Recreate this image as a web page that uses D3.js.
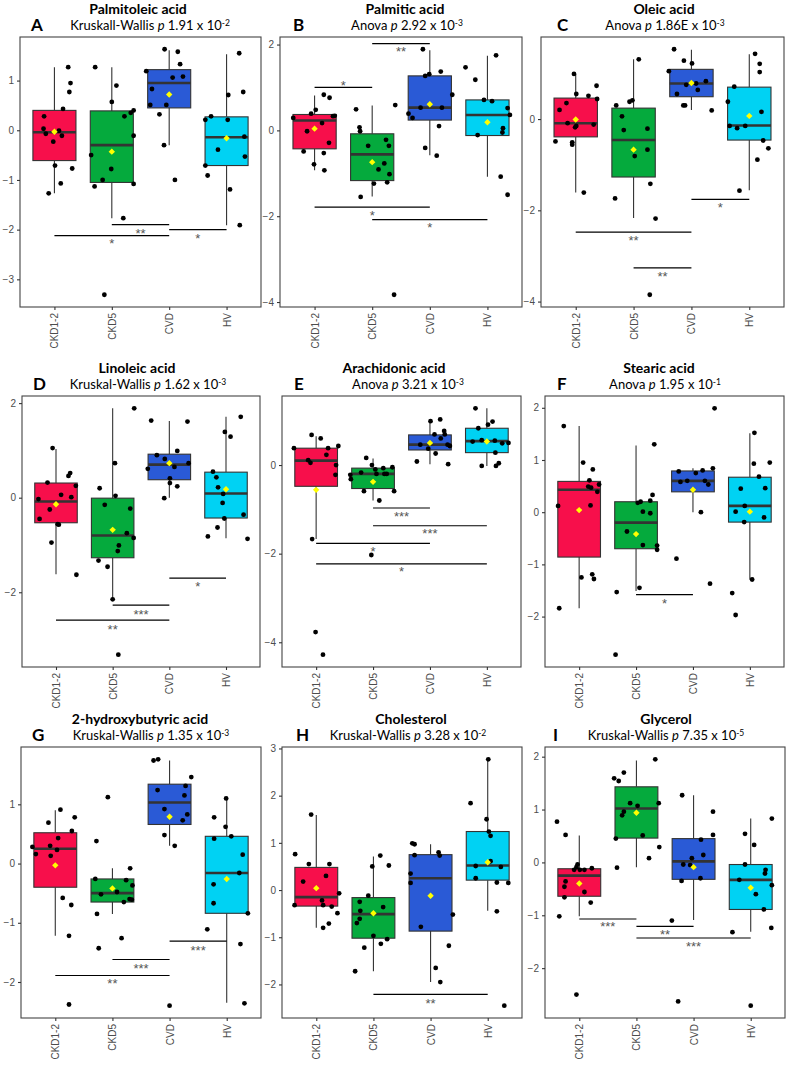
<!DOCTYPE html>
<html><head><meta charset="utf-8">
<script src="https://cdn.jsdelivr.net/npm/d3@7/dist/d3.min.js"></script>
<style>body{margin:0;background:#fff} svg{display:block}</style>
</head><body>
<svg id="c" width="793" height="1067"></svg>
<script>
// ---------------- DATA ----------------
const groups = ["CKD1-2", "CKD5", "CVD", "HV"];
const letters = ["A","B","C","D","E","F","G","H","I"];
const titles = ["Palmitoleic acid","Palmitic acid","Oleic acid","Linoleic acid","Arachidonic acid","Stearic acid","2-hydroxybutyric acid","Cholesterol","Glycerol"];
const tests = ["Kruskall-Wallis","Anova","Anova","Kruskal-Wallis","Anova","Anova","Kruskal-Wallis","Kruskal-Wallis","Kruskal-Wallis"];
const pMantissa = ["1.91","2.92","1.86E","1.62","3.21","1.95","1.35","3.28","7.35"];
const pExponent = ["-2","-3","-3","-3","-3","-1","-3","-2","-5"];
const yTicks = [[-3,-2,-1,0,1],[-4,-2,0,2],[-4,-2,0],[-2,0,2],[-4,-2,0],[-2,-1,0,1,2],[-2,-1,0,1],[-2,-1,0,1,2,3],[-2,-1,0,1,2]];

// points: per group [jitter offset (category units), value]
const ptsA = [
 [[0.24,1.27],[0.28,0.95],[0.26,0.77],[0.15,0.43],[-0.18,0.28],[-0.19,0.03],[-0.15,-0.07],[0.08,-0.01],[0.13,-0.11],[-0.02,-0.23],[0.01,-0.71],[0.31,-0.77],[0.11,-1.07],[-0.10,-1.27]],
 [[-0.29,1.27],[0.08,0.90],[0.0,0.57],[0.22,0.28],[0.33,0.35],[0.38,0.40],[0.38,-0.11],[-0.36,-0.50],[-0.01,-0.78],[-0.16,-1.00],[-0.30,-1.13],[0.38,-1.08],[0.20,-1.77],[-0.13,-3.31]],
 [[-0.08,1.63],[0.15,1.58],[0.19,1.33],[-0.40,1.19],[0.06,1.06],[0.24,1.08],[-0.30,0.83],[-0.33,0.51],[-0.05,0.51],[-0.17,0.32],[-0.09,-0.30],[0.10,-1.00]],
 [[0.22,1.55],[0.29,0.77],[0.03,0.71],[-0.37,0.21],[-0.27,0.28],[0.02,0.21],[-0.15,-0.39],[0.31,-0.13],[0.32,-0.53],[-0.37,-0.71],[-0.33,-0.91],[0.06,-1.19],[0.23,-1.91]]];
const ptsB = [
 [[0.16,0.83],[0.26,0.76],[0.02,0.48],[-0.06,0.39],[-0.37,0.29],[0.35,0.34],[0.32,0.33],[0.13,0.17],[-0.13,-0.02],[0.25,-0.29],[-0.19,-0.49],[0.16,-0.53],[-0.01,-0.79],[0.17,-0.93]],
 [[-0.28,0.49],[0.40,0.59],[-0.22,0.07],[-0.21,-0.02],[-0.07,-0.36],[0.24,-0.22],[0.29,-0.36],[0.11,-0.91],[0.21,-0.77],[0.30,-1.02],[0.03,-1.24],[0.26,-1.21],[-0.20,-1.55],[0.38,-3.83]],
 [[-0.12,1.89],[0.19,1.37],[-0.01,1.31],[-0.08,1.27],[0.39,0.83],[-0.16,0.53],[0.21,0.53],[-0.37,0.39],[-0.30,0.29],[0.16,0.10],[-0.08,-0.41],[0.12,-0.59]],
 [[0.15,1.75],[-0.38,1.47],[-0.21,1.18],[-0.06,0.71],[0.08,0.68],[0.35,0.52],[0.39,0.36],[0.27,0.05],[0.26,-0.05],[-0.17,-0.11],[0.23,-1.08],[0.35,-1.50]]];
const ptsC = [
 [[-0.03,0.99],[0.36,0.73],[0.01,0.55],[0.22,0.51],[-0.16,0.35],[-0.28,0.20],[0.37,0.44],[-0.14,-0.09],[0.01,-0.15],[-0.01,-0.18],[0.31,-0.12],[-0.35,-0.49],[-0.06,-0.51],[-0.06,-0.56],[0.14,-1.61]],
 [[0.09,1.31],[-0.02,0.41],[-0.07,0.38],[-0.30,0.30],[-0.20,0.06],[-0.17,-0.24],[0.24,-0.21],[0.24,-0.67],[0.02,-0.81],[0.29,-1.42],[-0.32,-1.74],[0.38,-2.18],[0.28,-3.85]],
 [[-0.30,1.53],[-0.13,1.28],[0.01,1.22],[-0.39,1.05],[0.25,0.83],[-0.09,0.75],[0.08,0.78],[0.11,0.64],[-0.25,0.55],[-0.14,0.30],[-0.11,0.30],[0.35,0.19]],
 [[0.10,1.43],[0.18,1.21],[0.18,1.03],[-0.26,0.71],[-0.37,0.38],[0.21,0.16],[-0.34,-0.15],[-0.21,-0.20],[-0.07,-0.15],[0.24,-0.47],[0.33,-0.64],[0.14,-0.89],[-0.17,-1.57]]];
const ptsD = [
 [[-0.06,1.05],[-0.15,0.32],[0.25,0.52],[0.22,0.46],[0.35,0.25],[-0.31,-0.03],[-0.11,-0.25],[0.09,0.06],[0.27,0.01],[-0.29,-0.45],[0.03,-0.56],[0.05,-0.57],[-0.08,-0.95],[0.36,-1.63]],
 [[0.38,1.89],[0.04,0.73],[-0.23,0.20],[-0.14,-0.15],[0.05,0.04],[0.31,-0.23],[0.25,-0.75],[0.37,-0.85],[0.11,-1.01],[0.09,-1.13],[-0.25,-1.33],[-0.09,-1.46],[0.0,-2.15],[0.10,-3.32]],
 [[-0.32,1.63],[0.32,1.61],[0.14,0.99],[-0.22,0.90],[-0.08,0.82],[-0.38,0.61],[0.34,0.73],[0.09,0.65],[0.01,0.41],[0.01,0.31],[0.14,0.24],[-0.09,-0.01]],
 [[0.26,1.71],[-0.02,1.39],[0.08,1.29],[-0.23,0.55],[-0.17,0.43],[-0.14,0.22],[-0.05,0.08],[-0.06,-0.11],[0.31,-0.36],[-0.03,-0.44],[-0.15,-0.63],[-0.32,-0.82],[0.38,-0.87]]];
const ptsE = [
 [[-0.08,0.68],[0.08,0.60],[-0.39,0.38],[0.21,0.38],[0.39,0.43],[0.18,0.23],[-0.14,0.11],[-0.10,0.05],[0.35,0.0],[0.34,-0.22],[-0.07,-1.67],[-0.01,-3.77],[0.12,-4.28]],
 [[-0.12,0.16],[-0.02,0.0],[0.04,-0.10],[0.18,-0.07],[0.34,-0.05],[-0.40,-0.22],[-0.39,-0.32],[-0.21,-0.17],[0.06,-0.20],[0.20,-0.20],[0.24,-0.20],[-0.16,-0.59],[0.37,-0.59],[0.11,-0.80],[-0.03,-2.03]],
 [[0.18,1.03],[0.01,0.99],[0.25,0.77],[0.26,0.69],[0.08,0.69],[0.19,0.60],[-0.17,0.46],[0.31,0.46],[0.35,0.43],[-0.03,0.37],[0.10,0.26],[-0.23,0.08],[0.32,0.02]],
 [[-0.20,1.28],[0.10,0.98],[0.02,0.91],[-0.15,0.83],[-0.25,0.53],[-0.09,0.56],[0.14,0.55],[0.27,0.49],[0.38,0.50],[0.15,0.28],[-0.09,-0.02],[0.21,0.04],[0.16,-0.02]]];
const ptsF = [
 [[-0.27,1.65],[0.07,0.95],[0.24,0.82],[0.18,0.61],[0.16,0.49],[0.21,0.47],[0.35,0.53],[0.32,0.39],[-0.37,0.12],[0.20,0.13],[0.04,-1.25],[0.23,-1.19],[0.26,-1.28],[-0.35,-1.84]],
 [[0.32,1.30],[0.29,0.33],[0.25,0.22],[0.08,0.20],[0.03,0.18],[0.12,0.01],[0.25,-0.02],[-0.16,-0.37],[0.12,-0.63],[0.37,-0.64],[0.37,-0.72],[0.06,-1.45],[-0.34,-1.53],[-0.36,-2.73]],
 [[0.38,1.99],[0.35,0.84],[-0.25,0.78],[0.17,0.80],[0.05,0.75],[-0.22,0.58],[-0.10,0.60],[0.21,0.60],[0.27,0.53],[0.14,0.0],[-0.29,-0.89],[0.30,-1.37]],
 [[0.08,1.52],[0.35,0.95],[0.07,0.93],[0.16,0.68],[-0.16,0.45],[0.27,0.46],[-0.09,0.12],[-0.25,0.01],[0.25,-0.10],[-0.10,-0.19],[0.04,-1.29],[-0.31,-1.55],[-0.25,-1.97]]];
const ptsG = [
 [[0.09,0.91],[-0.12,0.69],[0.34,0.78],[0.29,0.55],[0.05,0.43],[-0.40,0.28],[-0.09,0.30],[-0.34,0.16],[0.03,0.23],[-0.08,0.13],[0.13,-0.58],[0.28,-0.70],[0.24,-1.22],[0.24,-2.38]],
 [[-0.08,1.12],[-0.28,0.38],[0.31,-0.08],[-0.30,-0.26],[0.24,-0.28],[0.08,-0.48],[-0.20,-0.52],[0.35,-0.37],[0.30,-0.60],[0.34,-0.61],[0.20,-0.65],[-0.27,-0.85],[0.16,-1.26],[-0.24,-1.43]],
 [[-0.28,1.74],[-0.20,1.76],[0.38,1.46],[-0.21,1.24],[0.28,1.31],[0.26,1.15],[-0.09,0.92],[0.31,0.83],[0.23,0.73],[-0.09,0.48],[0.09,0.30],[0.0,-2.40]],
 [[-0.01,1.10],[-0.22,0.78],[-0.02,0.62],[0.08,0.46],[-0.22,0.42],[0.28,0.15],[0.22,-0.16],[-0.23,-0.35],[-0.23,-0.67],[0.37,-0.84],[-0.34,-1.11],[0.24,-1.36],[0.31,-2.36]]];
const ptsH = [
 [[-0.09,1.60],[-0.37,0.76],[-0.13,0.55],[0.23,0.55],[0.17,0.30],[-0.23,0.18],[0.10,-0.22],[0.40,-0.07],[-0.38,-0.32],[0.12,-0.32],[0.27,-0.35],[0.37,-0.49],[0.22,-0.71],[0.12,-0.80]],
 [[0.12,0.73],[0.27,0.52],[-0.02,0.50],[-0.09,-0.12],[-0.24,-0.25],[0.17,-0.36],[-0.23,-0.44],[-0.24,-0.61],[-0.29,-0.70],[0.0,-0.97],[0.24,-1.04],[0.13,-1.14],[-0.16,-1.22],[-0.32,-1.72]],
 [[-0.32,0.99],[-0.28,0.97],[0.14,0.80],[0.16,0.73],[-0.28,0.74],[-0.35,0.35],[-0.35,0.15],[0.39,-0.52],[-0.17,-0.78],[0.32,-1.18],[0.09,-1.65],[0.17,-1.95]],
 [[0.01,2.77],[-0.30,1.84],[-0.02,1.50],[0.02,1.24],[0.05,1.15],[0.05,0.61],[-0.21,0.51],[0.23,0.49],[-0.21,0.25],[0.16,0.16],[0.36,0.15],[0.16,-0.45],[0.29,-2.45]]];
const ptsI = [
 [[-0.39,0.77],[-0.24,0.52],[-0.03,-0.04],[-0.05,-0.09],[-0.09,-0.14],[0.01,-0.14],[0.09,-0.14],[0.22,-0.11],[-0.24,-0.36],[-0.26,-0.46],[0.09,-0.56],[-0.26,-0.66],[0.20,-0.76],[-0.35,-1.02],[-0.05,-2.50]],
 [[0.33,1.95],[-0.22,1.70],[-0.39,1.59],[-0.31,1.54],[-0.11,1.12],[0.39,1.12],[0.02,1.07],[-0.22,0.96],[-0.25,0.89],[-0.36,0.45],[0.11,0.51],[0.40,0.29],[0.22,0.08],[-0.34,-0.10]],
 [[-0.20,1.27],[0.34,0.96],[0.34,0.52],[0.13,0.43],[0.17,0.14],[-0.03,0.08],[-0.18,-0.04],[-0.06,-0.05],[-0.21,-0.35],[0.12,-0.30],[-0.38,-1.10],[-0.27,-2.63]],
 [[0.37,0.83],[-0.10,0.54],[0.06,0.33],[-0.10,-0.04],[0.26,-0.14],[0.25,-0.21],[-0.20,-0.33],[0.37,-0.43],[0.09,-0.60],[0.23,-0.89],[0.36,-1.24],[-0.32,-1.32],[0.0,-2.71]]];

// box stats per group: [lower whisker, Q1, median, Q3, upper whisker, mean]
const boxA = [[-1.27,-0.61,-0.04,0.40,1.27,-0.03],[-1.77,-1.05,-0.30,0.39,1.27,-0.43],[-0.30,0.45,0.95,1.22,1.61,0.72],[-1.91,-0.71,-0.14,0.27,1.53,-0.16]];
const boxB = [[-0.93,-0.43,0.23,0.37,0.81,0.04],[-1.54,-1.17,-0.56,-0.08,0.58,-0.74],[-0.58,0.24,0.53,1.27,1.87,0.61],[-1.08,-0.12,0.36,0.71,1.74,0.19]];
const boxC = [[-1.61,-0.39,-0.09,0.46,0.99,-0.01],[-2.17,-1.27,-0.46,0.24,1.31,-0.67],[0.20,0.49,0.78,1.09,1.52,0.79],[-1.56,-0.46,-0.14,0.70,1.42,0.07]];
const boxD = [[-1.62,-0.53,-0.08,0.31,1.03,-0.14],[-2.14,-1.27,-0.80,-0.01,1.89,-0.68],[0.0,0.38,0.70,0.92,1.62,0.73],[-0.86,-0.43,0.09,0.54,1.71,0.18]];
const boxE = [[-1.67,-0.48,0.10,0.38,0.65,-0.56],[-0.80,-0.53,-0.20,-0.07,0.15,-0.38],[0.02,0.34,0.46,0.68,1.01,0.50],[-0.02,0.28,0.54,0.83,1.28,0.53]];
const boxF = [[-1.84,-0.86,0.43,0.59,1.65,0.04],[-1.51,-0.70,-0.20,0.20,1.28,-0.42],[0.0,0.39,0.60,0.79,0.84,0.43],[-1.29,-0.19,0.12,0.67,1.51,0.01]];
const boxG = [[-1.22,-0.40,0.25,0.52,0.90,-0.03],[-0.85,-0.65,-0.50,-0.26,-0.08,-0.42],[0.30,0.66,1.03,1.34,1.74,0.79],[-2.35,-0.84,-0.16,0.46,1.09,-0.26]];
const boxH = [[-0.80,-0.34,-0.15,0.48,1.59,0.04],[-1.72,-1.02,-0.51,-0.16,0.71,-0.49],[-1.95,-0.87,0.25,0.75,0.97,-0.12],[-0.44,0.21,0.52,1.24,2.76,0.59]];
const boxI = [[-1.02,-0.64,-0.25,-0.12,0.51,-0.40],[-0.09,0.46,1.02,1.43,1.93,0.94],[-1.09,-0.32,0.02,0.45,1.27,-0.09],[-1.31,-0.89,-0.33,-0.04,0.83,-0.48]];

// significance: [from group, to group, bar value, label value, label]
const sigA = [[1,2,-1.90,-2.02,"**"],[0,2,-2.12,-2.22,"*"],[2,3,-2.00,-2.12,"*"]];
const sigB = [[0,1,1.00,1.10,"*"],[1,2,2.02,1.89,"**"],[0,2,-1.79,-1.91,"*"],[1,3,-2.08,-2.20,"*"]];
const sigC = [[2,3,-1.76,-1.87,"*"],[0,2,-2.48,-2.60,"**"],[1,2,-3.26,-3.39,"**"]];
const sigD = [[2,3,-1.70,-1.82,"*"],[1,2,-2.27,-2.41,"***"],[0,2,-2.59,-2.72,"**"]];
const sigE = [[1,2,-0.97,-1.09,"***"],[1,3,-1.37,-1.49,"***"],[0,2,-1.77,-1.88,"*"],[0,3,-2.23,-2.35,"*"]];
const sigF = [[1,2,-1.58,-1.69,"*"]];
const sigG = [[2,3,-1.31,-1.42,"***"],[1,2,-1.62,-1.72,"***"],[0,2,-1.89,-1.98,"**"]];
const sigH = [[1,3,-2.21,-2.34,"**"]];
const sigI = [[0,1,-1.07,-1.17,"***"],[1,2,-1.21,-1.32,"**"],[1,3,-1.43,-1.54,"***"]];

const allPts = [ptsA,ptsB,ptsC,ptsD,ptsE,ptsF,ptsG,ptsH,ptsI];
const allBox = [boxA,boxB,boxC,boxD,boxE,boxF,boxG,boxH,boxI];
const allSig = [sigA,sigB,sigC,sigD,sigE,sigF,sigG,sigH,sigI];

// ---------------- LAYOUT / STYLE ----------------
const groupColors = ["#F70F4B", "#05AA3D", "#2A5AD6", "#00D2F3"];
const frames = [
 {x0:20, x1:261, y0:37, y1:307, tx:138, sx:150, lx:31},
 {x0:280,x1:522, y0:37, y1:307, tx:405, sx:407, lx:293},
 {x0:541,x1:784, y0:37, y1:307, tx:664, sx:665, lx:557},
 {x0:22, x1:260, y0:396,y1:667, tx:137, sx:148, lx:33},
 {x0:282,x1:521, y0:396,y1:667, tx:394, sx:408, lx:294},
 {x0:545,x1:784, y0:396,y1:667, tx:659, sx:665, lx:557},
 {x0:21, x1:261, y0:747,y1:1018, tx:140, sx:151, lx:32},
 {x0:282,x1:522, y0:747,y1:1018, tx:411, sx:408, lx:296},
 {x0:545,x1:785, y0:747,y1:1018, tx:666, sx:666, lx:553}
];
const TXT = "Lato, 'Open Sans', sans-serif";
const AX = "'Liberation Sans', Arial, sans-serif";

const svg = d3.select("#c");

frames.forEach((L, k) => {
  const pts = allPts[k], box = allBox[k], sig = allSig[k];
  const g = svg.append("g");
  const vals = pts.flat().map(d => d[1]);
  const [mn, mx] = d3.extent(vals);
  const pad = (mx - mn) * 0.05;
  const y = d3.scaleLinear().domain([mn - pad, mx + pad]).range([L.y1, L.y0]);
  const x = d3.scaleLinear().domain([0.4, 4.6]).range([L.x0, L.x1]);
  const hw = x(1.375) - x(1);

  // boxplots
  box.forEach((b, i) => {
    const cx = x(i + 1);
    g.append("line").attr("x1", cx).attr("x2", cx).attr("y1", y(b[4])).attr("y2", y(b[3]))
      .attr("stroke", "#333").attr("stroke-width", 1.1);
    g.append("line").attr("x1", cx).attr("x2", cx).attr("y1", y(b[1])).attr("y2", y(b[0]))
      .attr("stroke", "#333").attr("stroke-width", 1.1);
    g.append("rect").attr("x", cx - hw).attr("y", y(b[3])).attr("width", 2 * hw)
      .attr("height", y(b[1]) - y(b[3])).attr("fill", groupColors[i])
      .attr("stroke", "#333").attr("stroke-width", 1.1);
    g.append("line").attr("x1", cx - hw).attr("x2", cx + hw).attr("y1", y(b[2])).attr("y2", y(b[2]))
      .attr("stroke", "#333").attr("stroke-width", 2.6);
  });

  // jittered points
  pts.forEach((grp, i) => {
    g.selectAll(null).data(grp).join("circle")
      .attr("cx", d => x(i + 1 + d[0])).attr("cy", d => y(d[1])).attr("r", 2.4)
      .attr("fill", "#000");
  });

  // means
  box.forEach((b, i) => {
    const cx = x(i + 1), cy = y(b[5]), s = 3.2;
    g.append("path").attr("d", `M${cx},${cy - s}L${cx + s},${cy}L${cx},${cy + s}L${cx - s},${cy}Z`)
      .attr("fill", "#FFFF00");
  });

  // significance bars
  sig.forEach(s => {
    const xa = x(s[0] + 1), xb = x(s[1] + 1);
    g.append("line").attr("x1", xa).attr("x2", xb).attr("y1", y(s[2])).attr("y2", y(s[2]))
      .attr("stroke", "#000").attr("stroke-width", 1.2);
    g.append("text").attr("x", (xa + xb) / 2).attr("y", y(s[3]) + 7.2)
      .attr("text-anchor", "middle").attr("font-family", AX).attr("font-size", 13)
      .attr("fill", "#555").text(s[4]);
  });

  // frame
  g.append("rect").attr("x", L.x0).attr("y", L.y0).attr("width", L.x1 - L.x0).attr("height", L.y1 - L.y0)
    .attr("fill", "none").attr("stroke", "#444").attr("stroke-width", 1.1);

  // y axis
  const ya = g.append("g").attr("transform", `translate(${L.x0},0)`)
    .call(d3.axisLeft(y).tickValues(yTicks[k]).tickSize(3).tickPadding(3).tickFormat(d3.format("d")));
  ya.select(".domain").remove();
  ya.selectAll("line").attr("stroke", "#333").attr("stroke-width", 1.1);
  ya.selectAll("text").attr("font-family", AX).attr("font-size", 10).attr("fill", "#4D4D4D");

  // x axis
  const xa = g.append("g").attr("transform", `translate(0,${L.y1})`)
    .call(d3.axisBottom(x).tickValues([1, 2, 3, 4]).tickSize(3).tickFormat(d => groups[d - 1]));
  xa.select(".domain").remove();
  xa.selectAll("line").attr("stroke", "#333").attr("stroke-width", 1.1);
  xa.selectAll("text").attr("font-family", AX).attr("font-size", 10).attr("fill", "#4D4D4D")
    .attr("transform", "rotate(-90)").attr("x", -6).attr("y", 0).attr("dy", "0.35em")
    .attr("text-anchor", "end");

  // titles
  g.append("text").attr("x", L.tx).attr("y", L.y0 - 23).attr("text-anchor", "middle")
    .attr("font-family", TXT).attr("font-weight", "bold").attr("font-size", 14).attr("fill", "#000")
    .text(titles[k]);
  const st = g.append("text").attr("x", L.sx).attr("y", L.y0 - 6.6).attr("text-anchor", "middle")
    .attr("font-family", TXT).attr("font-size", 13).attr("fill", "#000");
  st.append("tspan").text(tests[k] + " ");
  st.append("tspan").attr("font-style", "italic").text("p");
  st.append("tspan").text(" " + pMantissa[k] + " x 10");
  st.append("tspan").attr("font-size", 8.5).attr("dy", -4.5).text(pExponent[k]);
  g.append("text").attr("x", L.lx).attr("y", L.y0 - 6.5)
    .attr("font-family", TXT).attr("font-weight", "bold").attr("font-size", 17).attr("fill", "#000")
    .text(letters[k]);
});
</script>
</body></html>
